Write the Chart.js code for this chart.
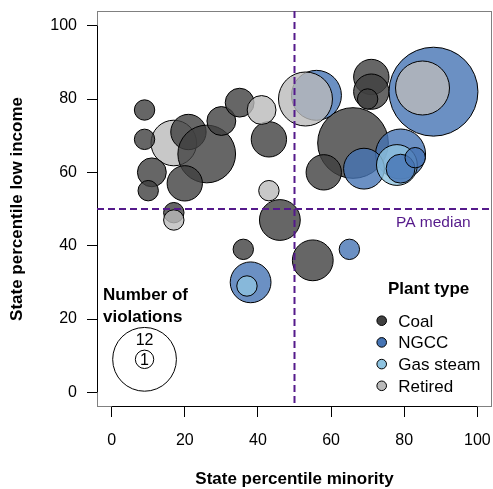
<!DOCTYPE html>
<html>
<head>
<meta charset="utf-8">
<script src="https://cdn.jsdelivr.net/npm/chart.js@4.4.1/dist/chart.umd.min.js"></script>
<style>
  html, body { margin: 0; padding: 0; background: #fff; }
</style>
</head>
<body>
<canvas id="bubbleChart" width="493" height="489"></canvas>
<script>
// one entry per plant, listed in drawing order (later ones sit on top)
const plantType = [
  "Retired",
  "Coal", "Coal", "Coal", "Coal", "Coal", "Coal", "Coal", "Coal", "Coal", "Coal",
  "Coal", "Coal", "Coal", "Coal", "Coal", "Coal", "Coal", "Coal", "Coal",
  "NGCC", "NGCC", "NGCC", "NGCC", "NGCC", "NGCC",
  "Gas steam", "Gas steam",
  "NGCC", "NGCC",
  "Retired", "Retired", "Retired", "Retired", "Retired"
];
const minority = [
  17,
  9, 9, 21, 26, 11, 10, 20, 17, 30, 35,
  43, 46, 36, 55, 71, 71, 70, 66, 58,
  56, 88, 79, 69, 38, 65,
  78, 37,
  79, 83,
  53, 85, 41, 43, 17
];
const lowIncome = [
  68,
  77, 69, 71, 65, 60, 55, 57, 49, 74, 79,
  69, 47, 39, 36, 86, 82, 80, 68, 60,
  81, 82, 65, 61, 30, 39,
  62, 29,
  61, 64,
  80, 83, 77, 55, 47
];
const violations = [
  5,
  1, 1, 3, 8, 2, 1, 3, 1, 2, 2,
  3, 4, 1, 4, 3, 3, 1, 12, 3,
  6, 19, 6, 4, 4, 1,
  4, 1,
  2, 1,
  7, 7, 2, 1, 1
];

const typeNames = ["Coal", "NGCC", "Gas steam", "Retired"];
const typeColors = ["64,64,64", "70,116,180", "142,195,224", "186,186,186"];
const tickValues = [0, 20, 40, 60, 80, 100];
const legendViolations = [12, 1];
const paMedianMinority = 50;
const paMedianLowIncome = 50;

const FONT = "'Liberation Sans', Arial, Helvetica, sans-serif";
const PURPLE = "#551A8B";

// bubbles must not push the plot area inwards
Chart.BubbleController.prototype.getMaxOverflow = function () {
  return 0;
};

const colorOf = (t, a) => {
  const c = typeColors[typeNames.indexOf(t)];
  return a === undefined ? `rgb(${c})` : `rgba(${c},${a})`;
};

const plantPoints = minority.map((x, i) => ({
  x: x,
  y: lowIncome[i],
  r: 10.2 * Math.sqrt(violations[i]),
}));
const legendPoints = legendViolations.map((n) => ({
  x: 9,
  y: 9,
  r: 9.2 * Math.sqrt(n),
}));

const decorations = {
  id: "decorations",
  beforeDatasetsDraw(chart) {
    const { ctx, chartArea: a, scales } = chart;
    ctx.save();
    ctx.strokeStyle = "#808080";
    ctx.lineWidth = 1;
    ctx.strokeRect(a.left + 0.5, a.top + 0.5, a.right - a.left - 1, a.bottom - a.top - 1);
    // black axis lines from first to last tick
    const x0 = scales.x.getPixelForValue(tickValues[0]);
    const x1 = scales.x.getPixelForValue(tickValues[tickValues.length - 1]);
    const y0 = scales.y.getPixelForValue(tickValues[0]);
    const y1 = scales.y.getPixelForValue(tickValues[tickValues.length - 1]);
    ctx.strokeStyle = "#000";
    ctx.beginPath();
    ctx.moveTo(a.left + 0.5, y0);
    ctx.lineTo(a.left + 0.5, y1);
    ctx.moveTo(x0, a.bottom - 0.5);
    ctx.lineTo(x1, a.bottom - 0.5);
    ctx.stroke();
    ctx.restore();
  },
  afterDatasetsDraw(chart) {
    const { ctx, chartArea: a, scales } = chart;
    ctx.save();

    // PA median lines
    const mx = scales.x.getPixelForValue(paMedianMinority);
    const my = scales.y.getPixelForValue(paMedianLowIncome);
    ctx.strokeStyle = PURPLE;
    ctx.lineWidth = 2;
    ctx.setLineDash([7, 4]);
    ctx.beginPath();
    ctx.moveTo(mx, a.top);
    ctx.lineTo(mx, a.bottom);
    ctx.moveTo(a.left, my);
    ctx.lineTo(a.right, my);
    ctx.stroke();
    ctx.setLineDash([]);

    ctx.fillStyle = PURPLE;
    ctx.font = `15.5px ${FONT}`;
    ctx.textAlign = "left";
    ctx.textBaseline = "alphabetic";
    ctx.fillText("PA median", 396, 226.5);

    // violations legend
    ctx.fillStyle = "#000";
    ctx.font = `bold 17px ${FONT}`;
    ctx.fillText("Number of", 103, 300);
    ctx.fillText("violations", 103, 321.7);
    ctx.font = `16px ${FONT}`;
    ctx.textAlign = "center";
    const lx = scales.x.getPixelForValue(legendPoints[0].x);
    ctx.fillText(String(legendViolations[0]), lx, 345);
    ctx.fillText(String(legendViolations[1]), lx, 365);

    // plant type legend
    ctx.textAlign = "left";
    ctx.font = `bold 17px ${FONT}`;
    ctx.fillText("Plant type", 388, 294);
    ctx.font = `17px ${FONT}`;
    typeNames.forEach((name, i) => {
      const base = 326.5 + i * 21.7;
      ctx.beginPath();
      ctx.arc(381.7, base - 5.8, 4.8, 0, Math.PI * 2);
      ctx.fillStyle = colorOf(name);
      ctx.fill();
      ctx.strokeStyle = "#000";
      ctx.lineWidth = 1;
      ctx.stroke();
      ctx.fillStyle = "#000";
      ctx.fillText(name, 398.3, base);
    });

    // axis titles
    ctx.font = `bold 17px ${FONT}`;
    ctx.textAlign = "center";
    ctx.fillText("State percentile minority", (a.left + a.right) / 2, 484);
    ctx.translate(22, (a.top + a.bottom) / 2);
    ctx.rotate(-Math.PI / 2);
    ctx.fillText("State percentile low income", 0, 0);
    ctx.restore();
  },
};

const axisCommon = {
  type: "linear",
  min: -4,
  max: 104,
  afterBuildTicks: (scale) => {
    scale.ticks = tickValues.map((v) => ({ value: v }));
  },
  grid: {
    drawOnChartArea: false,
    drawTicks: true,
    tickLength: 10,
    tickColor: "#000",
    tickWidth: 1,
  },
  border: { display: false },
};

new Chart(document.getElementById("bubbleChart").getContext("2d"), {
  type: "bubble",
  plugins: [decorations],
  data: {
    datasets: [
      {
        label: "Plants",
        data: plantPoints,
        backgroundColor: plantType.map((t) => colorOf(t, 0.8)),
        borderColor: "#000",
        borderWidth: 1,
        clip: false,
      },
      {
        label: "Number of violations",
        data: legendPoints,
        backgroundColor: "#fff",
        borderColor: "#000",
        borderWidth: 1,
        clip: false,
      },
    ],
  },
  options: {
    responsive: false,
    devicePixelRatio: 1,
    animation: false,
    events: [],
    layout: { padding: { top: 11, right: 1, left: 0, bottom: 0 } },
    plugins: {
      legend: { display: false },
      tooltip: { enabled: false },
    },
    scales: {
      x: {
        ...axisCommon,
        position: "bottom",
        afterFit: (scale) => {
          scale.height = 82;
          scale.paddingLeft = 0;
          scale.paddingRight = 0;
        },
        ticks: { color: "#000", font: { family: FONT, size: 16 }, padding: 14, maxRotation: 0 },
      },
      y: {
        ...axisCommon,
        position: "left",
        afterFit: (scale) => {
          scale.width = 97;
          scale.paddingTop = 0;
          scale.paddingBottom = 0;
        },
        ticks: { color: "#000", font: { family: FONT, size: 16 }, padding: 10 },
      },
    },
  },
});
</script>
</body>
</html>
